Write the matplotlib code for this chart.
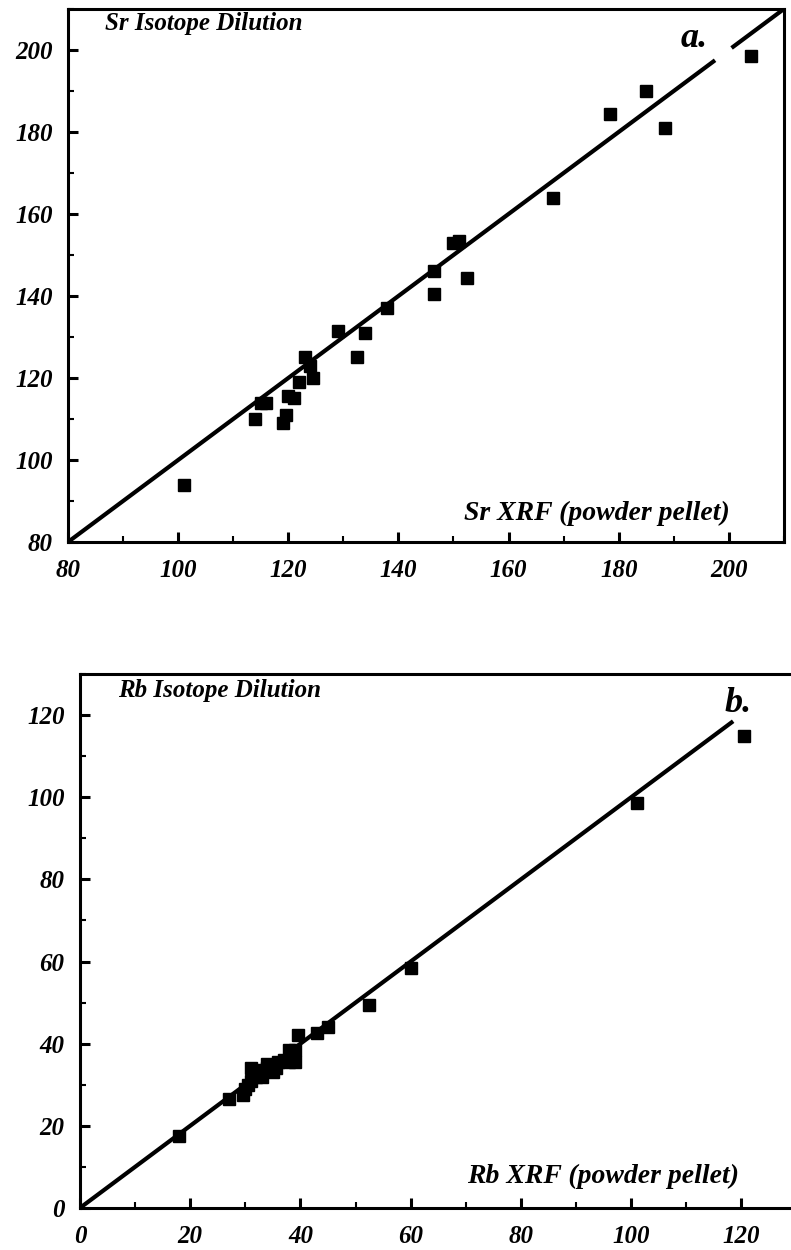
import matplotlib
matplotlib.use("Agg")
import matplotlib.pyplot as plt
from matplotlib.ticker import MultipleLocator

# Sr: XRF (powder pellet) vs isotope dilution
sr_xrf = [101, 114, 115, 116, 119, 119.5, 120, 121, 122, 123, 124, 124.5,
          129, 132.5, 134, 138, 146.5, 146.5, 150, 151, 152.5, 168, 178.5,
          185, 188.5, 204]
sr_id = [94, 110, 114, 114, 109, 111, 115.5, 115, 119, 125, 123, 120,
         131.5, 125, 131, 137, 140.5, 146, 153, 153.5, 144.5, 164, 184.5,
         190, 181, 198.5]

# Rb: XRF (powder pellet) vs isotope dilution
rb_xrf = [18, 27, 29.5, 30, 30.5, 31, 31, 32, 32, 33, 34, 34, 35, 35.5, 36,
          37, 38, 38, 39, 39, 39.5, 43, 45, 52.5, 60, 101, 120.5]
rb_id = [17.5, 26.5, 27.5, 29, 30, 31, 34, 33.5, 32, 32, 35, 34, 33, 34,
         35.5, 36, 38.5, 35.5, 35.5, 38.5, 42, 42.5, 44, 49.5, 58.5, 98.5, 115]

# 1:1 lines (the Sr one is broken near the "a." label)
sr_line_parts = [(80, 197.5), (200.5, 210)]
rb_line = [0, 118.5]

font = dict(family="Liberation Serif", weight="bold", style="italic")

fig = plt.figure(figsize=(7.91, 12.5), dpi=100)
ax1 = fig.add_axes([0.086, 0.5664, 0.905, 0.4264])
ax2 = fig.add_axes([0.101, 0.0336, 0.906, 0.4272])


def style_axes(ax, lim, major, minor):
    ax.set_xlim(lim)
    ax.set_ylim(lim)
    ax.xaxis.set_major_locator(MultipleLocator(major))
    ax.xaxis.set_minor_locator(MultipleLocator(minor))
    ax.yaxis.set_major_locator(MultipleLocator(major))
    ax.yaxis.set_minor_locator(MultipleLocator(minor))
    for sp in ax.spines.values():
        sp.set_linewidth(2.2)
    ax.tick_params(which="major", direction="in", length=7, width=2.2,
                   top=False, right=False)
    ax.tick_params(axis="x", which="major", pad=12)
    ax.tick_params(axis="y", which="major", pad=11)
    ax.tick_params(which="minor", direction="in", length=4, width=1.5,
                   top=False, right=False)
    for lab in ax.get_xticklabels() + ax.get_yticklabels():
        lab.set_fontfamily(font["family"])
        lab.set_fontweight("bold")
        lab.set_fontstyle("italic")
        lab.set_fontsize(18)


# panel a
for part in sr_line_parts:
    ax1.plot(part, part, color="black", lw=3, solid_capstyle="butt")
ax1.plot(sr_xrf, sr_id, "s", color="black", ms=8.5)
style_axes(ax1, (80, 210), 20, 10)
ax1.text(0.052, 0.995, "Sr Isotope Dilution", transform=ax1.transAxes,
         fontsize=18, va="top", ha="left", **font)
ax1.text(0.855, 0.975, "a.", transform=ax1.transAxes,
         fontsize=26, va="top", ha="left", **font)
ax1.text(0.925, 0.03, "Sr XRF (powder pellet)", transform=ax1.transAxes,
         fontsize=20, va="bottom", ha="right", **font)

# panel b
ax2.plot(rb_line, rb_line, color="black", lw=3, solid_capstyle="butt")
ax2.plot(rb_xrf, rb_id, "s", color="black", ms=8.5)
style_axes(ax2, (0, 130), 20, 10)
ax2.text(0.053, 0.99, "Rb Isotope Dilution", transform=ax2.transAxes,
         fontsize=18, va="top", ha="left", **font)
ax2.text(0.9, 0.975, "b.", transform=ax2.transAxes,
         fontsize=26, va="top", ha="left", **font)
ax2.text(0.92, 0.035, "Rb XRF (powder pellet)", transform=ax2.transAxes,
         fontsize=20, va="bottom", ha="right", **font)

fig.savefig("out.png", dpi=100)
